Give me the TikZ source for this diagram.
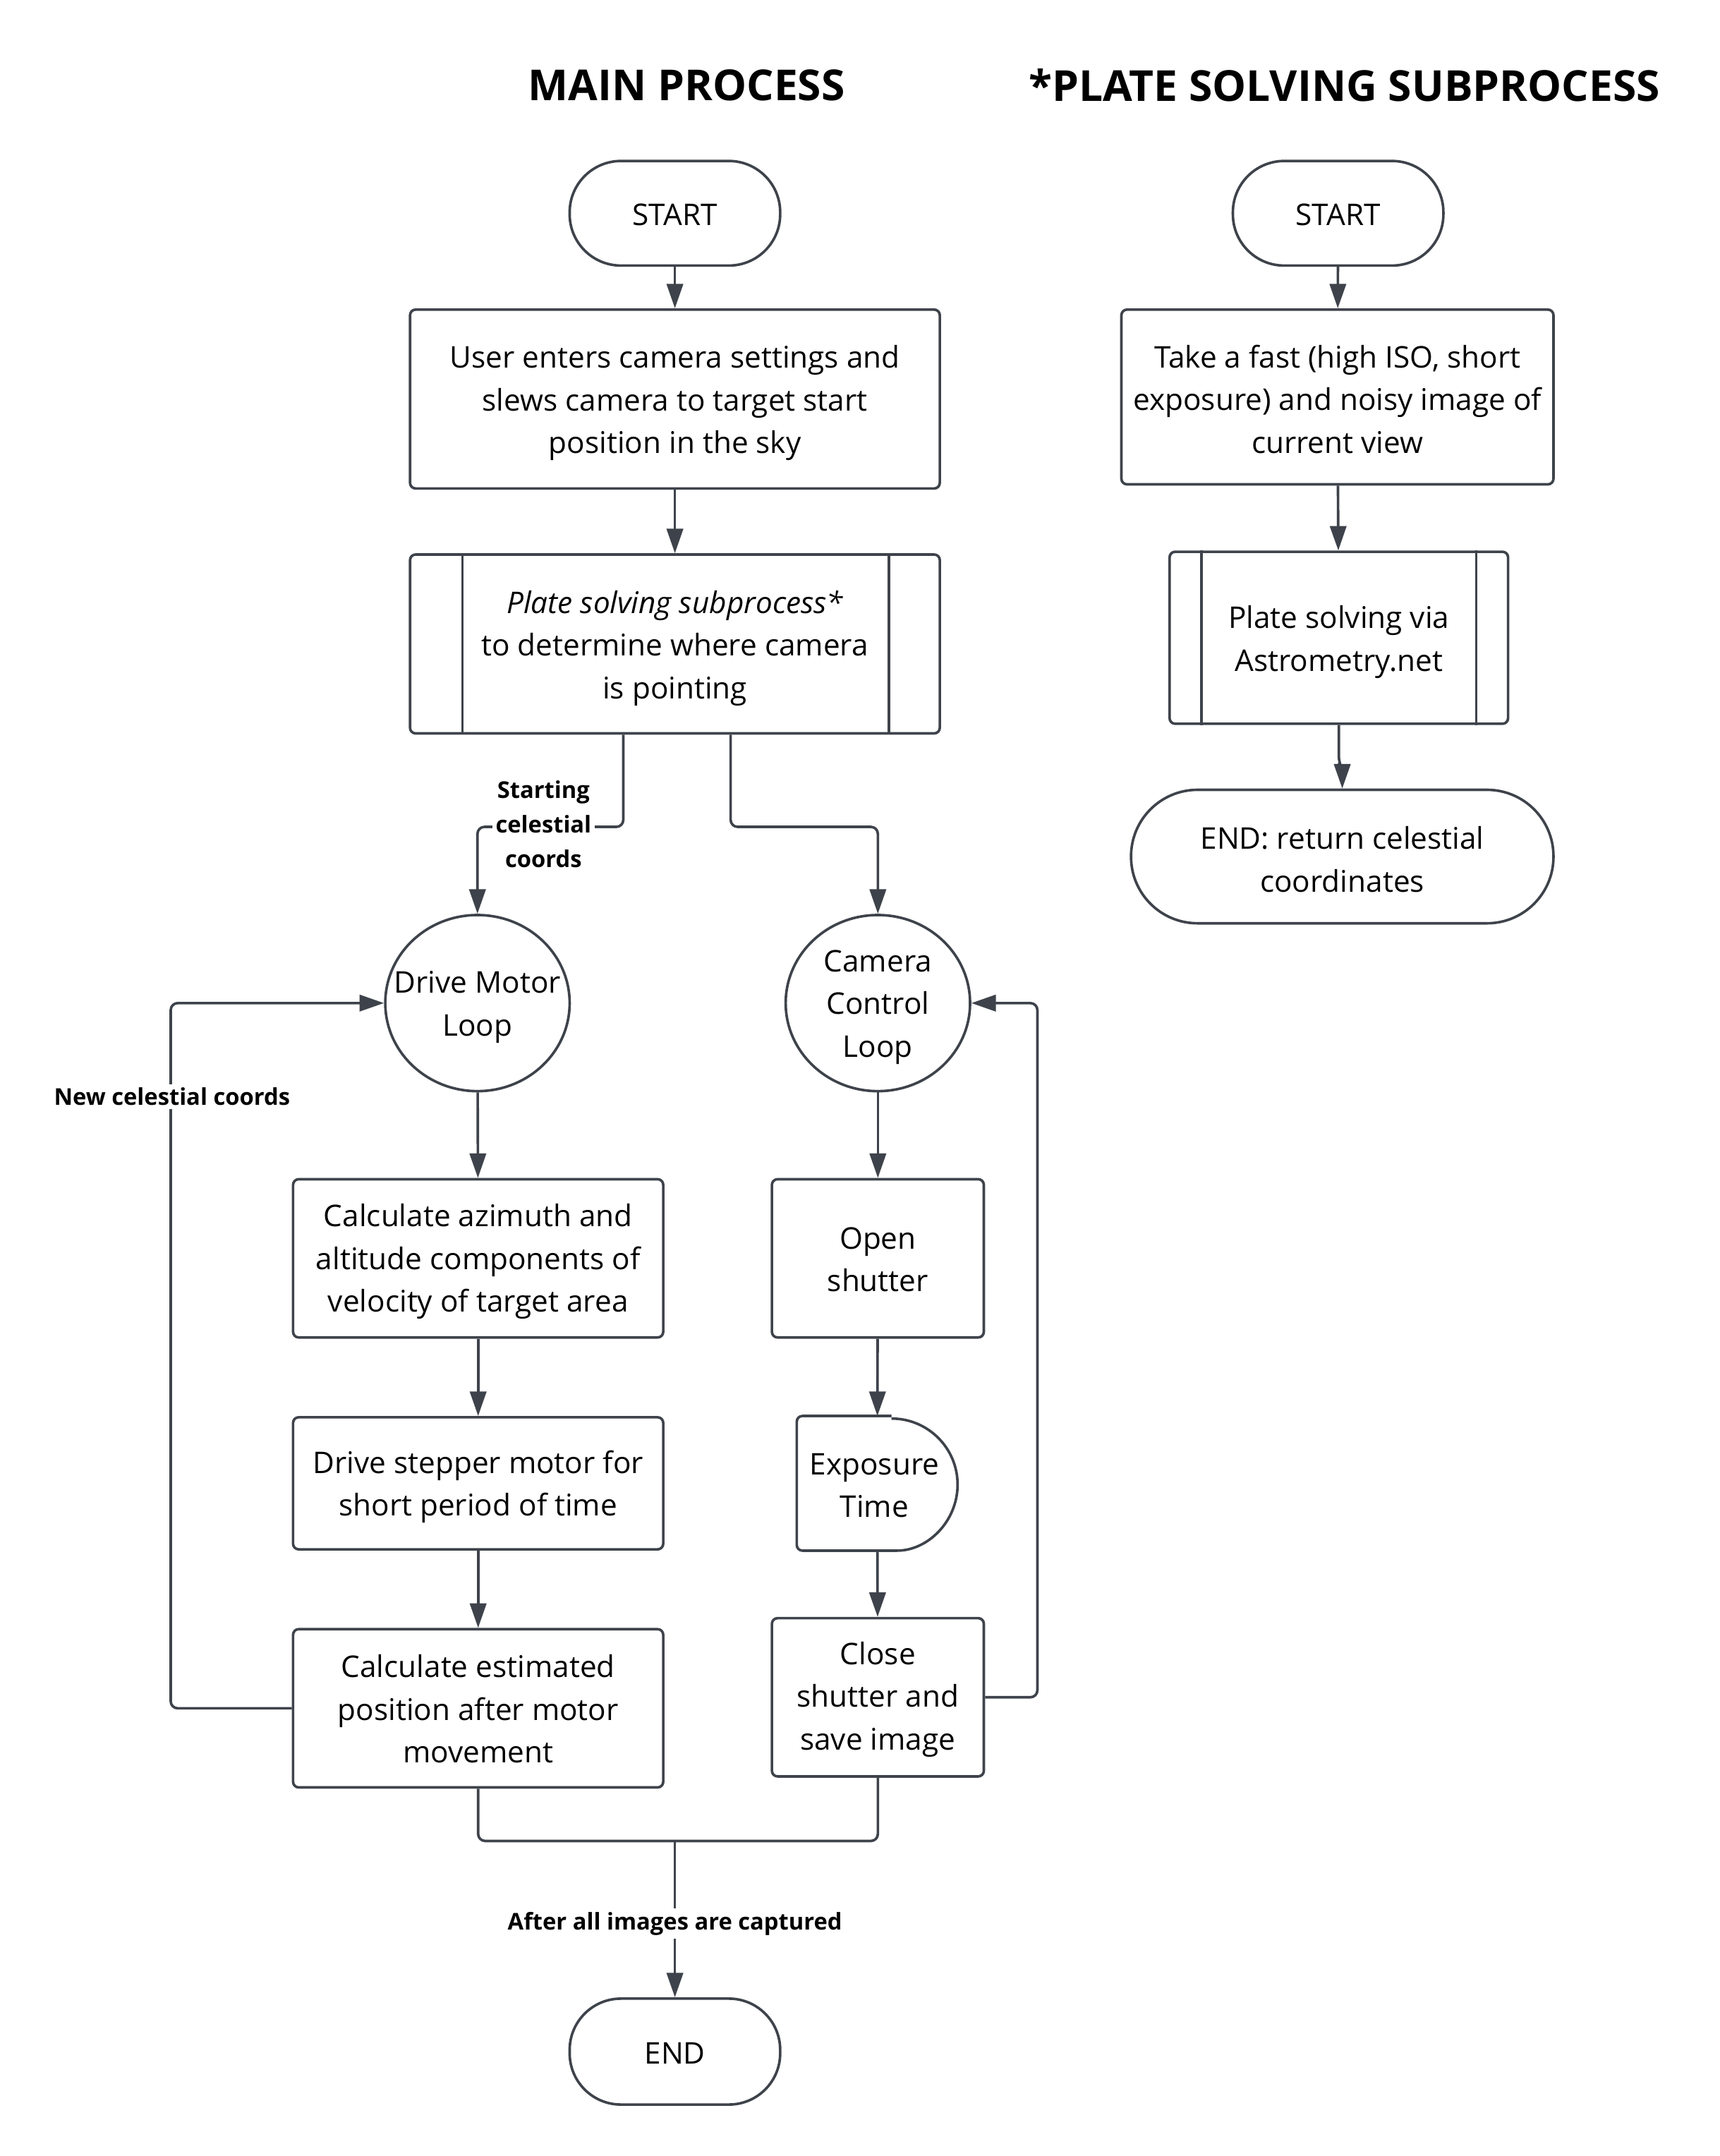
\documentclass[tikz,border=0pt]{standalone}
\usepackage{fontspec}
\setmainfont{Open Sans}
\usetikzlibrary{calc,arrows.meta,shapes.geometric}
\newlength\unitlen
\setlength{\unitlen}{0.59pt}
\definecolor{linec}{HTML}{3E434B}
\tikzset{
  base/.style={draw=linec, line width=1.1pt, inner sep=0pt},
  txt/.style={align=center, inner sep=0pt, font=\fontsize{12.8}{18.3}\selectfont, text=black},
  procbox/.style={base, rectangle, rounded corners=2.4pt},
  termbox/.style={base, rectangle, rounded corners=22pt},
  loopnode/.style={base, ellipse},
  arr/.style={draw=linec, line width=1.1pt, rounded corners=3pt, -{Triangle[length=10.5pt,width=7pt]}},
  conn/.style={draw=linec, line width=1.1pt, rounded corners=3pt},
  lbl/.style={fill=white, inner sep=1.5pt, align=center, font=\fontsize{9.9}{14.7}\selectfont\bfseries, text=black},
  ttl/.style={font=\fontsize{18.3}{22}\selectfont\bfseries, text=black, inner sep=0pt}
}
\begin{document}
\begin{tikzpicture}[x=\unitlen,y=-\unitlen]
\useasboundingbox[fill=white] (0,0) rectangle (1250,1566.9);

% titles
\node[ttl] (t1) at (499,62) {MAIN PROCESS};
\node[ttl] (t2) at (977,62) {*PLATE SOLVING SUBPROCESS};

% main column shapes
\node[termbox, minimum width={153*\unitlen}, minimum height={76*\unitlen}] (mstart) at (490.5,155) {};
\node[procbox, minimum width={385*\unitlen}, minimum height={130*\unitlen}] (mbox1) at (490.5,290) {};
\node[procbox, minimum width={385*\unitlen}, minimum height={130*\unitlen}] (mplate) at (490.5,468) {};
\draw[conn] ($(mplate.north west)+(39,0)$) -- ($(mplate.south west)+(39,0)$);
\draw[conn] ($(mplate.north east)+(-38,0)$) -- ($(mplate.south east)+(-38,0)$);
\node[loopnode, minimum width={134*\unitlen}, minimum height={128*\unitlen}] (drive) at (347,729) {};
\node[loopnode, minimum width={134*\unitlen}, minimum height={128*\unitlen}] (cam) at (638,729) {};
\node[procbox, minimum width={269*\unitlen}, minimum height={115*\unitlen}] (calcaz) at (347.5,914.5) {};
\node[procbox, minimum width={269*\unitlen}, minimum height={96*\unitlen}] (stepper) at (347.5,1078) {};
\node[procbox, minimum width={269*\unitlen}, minimum height={115*\unitlen}] (calcest) at (347.5,1241.5) {};
\node[procbox, minimum width={154*\unitlen}, minimum height={115*\unitlen}] (open) at (638,914.5) {};
\node[base, draw=none, minimum width={115*\unitlen}, minimum height={96*\unitlen}] (exp) at (637.5,1078) {};
\draw[conn, rounded corners=0pt] ($(exp.north east)+(-48,0)$) [rounded corners=2.4pt] -- (exp.north west) -- (exp.south west) -- ($(exp.south east)+(-48,0)$) [sharp corners] arc[start angle=-90, end angle=90, radius={48*\unitlen}];
\node[procbox, minimum width={154*\unitlen}, minimum height={115*\unitlen}] (close) at (638,1233.5) {};
\node[termbox, minimum width={153*\unitlen}, minimum height={77*\unitlen}] (mend) at (490.5,1491) {};

% main column texts
\node[txt] (mstartt) at (490.5,156) {START};
\node[txt] (mbox1t) at (490.5,293) {User enters camera settings and\\slews camera to target start\\position in the sky};
\node[txt] (mplatet) at (490.5,471) {\itshape Plate solving subprocess*\\to determine where camera\\is pointing};
\node[txt] (drivet) at (347,732) {Drive Motor\\Loop};
\node[txt] (camt) at (638,732) {Camera\\Control\\Loop};
\node[txt] (calcazt) at (347.5,917) {Calculate azimuth and\\altitude components of\\velocity of target area};
\node[txt] (steppert) at (347.5,1080.5) {Drive stepper motor for\\short period of time};
\node[txt] (calcestt) at (347.5,1242) {Calculate estimated\\position after motor\\movement};
\node[txt] (opent) at (638,915.5) {Open\\shutter};
\node[txt] (expt) at (635.5,1079.5) {Exposure\\Time};
\node[txt] (closet) at (638,1235) {Close\\shutter and\\save image};
\node[txt] (mendt) at (490.5,1492) {END};

% main connectors
\draw[arr] (mstart) -- (mbox1);
\draw[arr] (mbox1) -- (mplate);
\draw[arr] ($(mplate.south)+(-37.5,0)$) -- ++(0,67) -| (drive.north);
\node[lbl] (lbl1) at (395,599) {Starting\\celestial\\coords};
\draw[arr] ($(mplate.south)+(40.5,0)$) -- ++(0,67) -| (cam.north);
\draw[arr] (drive) -- (calcaz);
\draw[arr] (calcaz) -- (stepper);
\draw[arr] (stepper) -- (calcest);
\draw[arr] (calcest.west) -- ++(-88,0) |- (drive.west);
\node[lbl] (lbl2) at (125,797) {New celestial coords};
\draw[arr] (cam) -- (open);
\draw[arr] (open) -- (exp);
\draw[arr] (exp) -- (close);
\draw[arr] (close.east) -- ++(38,0) |- (cam.east);
\draw[conn] (calcest.south) -- ++(0,38) -| (close.south);
\coordinate (merge) at (490.5,1337);
\draw[arr] (merge) -- (mend.north);
\node[lbl] (lbl3) at (490.5,1398) {After all images are captured};

% subprocess column
\node[termbox, minimum width={153*\unitlen}, minimum height={76*\unitlen}] (sstart) at (972.5,155) {};
\node[procbox, minimum width={314*\unitlen}, minimum height={127*\unitlen}] (sbox) at (972,288.5) {};
\node[procbox, minimum width={246*\unitlen}, minimum height={125*\unitlen}] (splate) at (973,463.5) {};
\draw[conn] ($(splate.north west)+(24,0)$) -- ($(splate.south west)+(24,0)$);
\draw[conn] ($(splate.north east)+(-24,0)$) -- ($(splate.south east)+(-24,0)$);
\node[termbox, rounded corners=28.5pt, minimum width={307*\unitlen}, minimum height={97*\unitlen}] (send) at (975.5,622.5) {};

\node[txt] (sstartt) at (972.5,156) {START};
\node[txt] (sboxt) at (972,290) {Take a fast (high ISO, short\\exposure) and noisy image of\\current view};
\node[txt] (splatet) at (973,466.5) {Plate solving via\\Astrometry.net};
\node[txt] (sendt) at (975.5,624.5) {END: return celestial\\coordinates};

\draw[arr] (sstart) -- (sbox);
\draw[arr] (sbox) -- (splate);
\draw[arr] (splate.south) -- ++(0,28) -- ++(2.5,4) -- (send.north);
\end{tikzpicture}
\end{document}
